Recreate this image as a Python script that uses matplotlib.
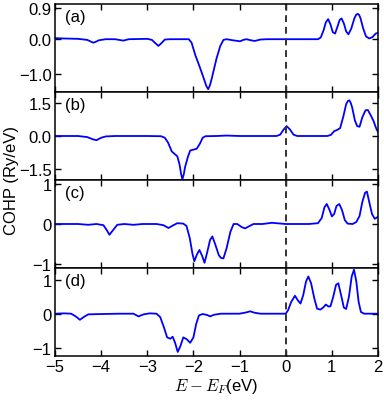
import matplotlib
matplotlib.use("Agg")
import matplotlib.pyplot as plt

plt.rcParams['font.family'] = ['Liberation Sans', 'DejaVu Sans']
plt.rcParams['mathtext.fontset'] = 'cm'

# ---------------- data ----------------
xa = [-5.0, -4.8, -4.5, -4.3, -4.22, -4.17, -4.11, -4.05, -3.9, -3.7, -3.52, -3.4, -3.0, -2.9,
      -2.82, -2.76, -2.70, -2.62, -2.5, -2.2, -2.10, -2.04, -1.96, -1.86, -1.78, -1.72, -1.68,
      -1.64, -1.60, -1.50, -1.42, -1.35, -1.28, -1.15, -0.99, -0.92, -0.85, -0.76, -0.67, -0.55,
      -0.4, 0.0, 0.3, 0.6, 0.70, 0.76, 0.82, 0.87, 0.92, 0.97, 1.02, 1.07, 1.12, 1.17, 1.21,
      1.26, 1.31, 1.36, 1.42, 1.49, 1.53, 1.56, 1.59, 1.62, 1.68, 1.74, 1.81, 1.88, 1.95, 2.0]
ya = [0.03, 0.02, 0.01, -0.02, -0.07, -0.10, -0.07, -0.03, 0.0, 0.0, -0.04, 0.0, 0.01, -0.02,
      -0.12, -0.19, -0.12, -0.01, 0.0, 0.0, 0.0, -0.10, -0.45, -0.80, -1.10, -1.33, -1.42,
      -1.30, -1.10, -0.55, -0.20, -0.02, 0.0, -0.03, -0.06, -0.02, 0.0, -0.03, -0.05, -0.01,
      0.0, 0.0, 0.0, 0.0, 0.0, 0.05, 0.25, 0.48, 0.57, 0.42, 0.20, 0.16, 0.35, 0.55, 0.59,
      0.45, 0.22, 0.14, 0.30, 0.60, 0.70, 0.72, 0.69, 0.60, 0.30, 0.08, 0.02, 0.06, 0.16, 0.18]

xb = [-5.0, -4.5, -4.3, -4.18, -4.10, -4.0, -3.9, -3.7, -3.0, -2.7, -2.62, -2.55, -2.47, -2.40,
      -2.35, -2.30, -2.27, -2.24, -2.21, -2.18, -2.12, -2.07, -2.00, -1.93, -1.86, -1.80, -1.74,
      -1.5, -1.28, -1.0, -0.5, -0.20, -0.12, -0.05, 0.02, 0.09, 0.17, 0.25, 0.9, 0.98, 1.05,
      1.12, 1.18, 1.25, 1.31, 1.35, 1.38, 1.41, 1.44, 1.50, 1.55, 1.60, 1.66, 1.73, 1.78, 1.84,
      1.90, 1.96, 2.0]
yb = [0.0, 0.0, -0.05, -0.15, -0.19, -0.08, -0.02, 0.0, 0.0, -0.01, -0.08, -0.30, -0.70, -0.83,
      -0.92, -1.30, -1.70, -1.97, -1.75, -1.40, -0.95, -0.66, -0.62, -0.58, -0.35, -0.08, -0.01,
      0.0, 0.02, 0.0, 0.0, 0.0, 0.06, 0.28, 0.45, 0.30, 0.06, 0.0, 0.0, 0.05, 0.22,
      0.28, 0.36, 0.90, 1.45, 1.60, 1.62, 1.50, 1.30, 0.70, 0.45, 0.42, 0.85, 1.17, 1.18, 0.95,
      0.70, 0.35, 0.18]

xc = [-5.0, -4.5, -4.28, -4.1, -3.95, -3.88, -3.82, -3.74, -3.65, -3.5, -3.3, -3.1, -2.8, -2.65,
      -2.54, -2.45, -2.35, -2.22, -2.15, -2.08, -2.02, -1.98, -1.92, -1.87, -1.81, -1.76, -1.70,
      -1.64, -1.59, -1.53, -1.45, -1.40, -1.35, -1.28, -1.20, -1.13, -1.05, -0.95, -0.88, -0.80,
      -0.7, -0.5, -0.3, -0.1, 0.0, 0.5, 0.70, 0.78, 0.84, 0.89, 0.95, 1.0, 1.05, 1.10, 1.16,
      1.22, 1.28, 1.34, 1.45, 1.53, 1.60, 1.66, 1.72, 1.76, 1.81, 1.87, 1.93, 2.0]
yc = [0.0, 0.0, -0.02, 0.0, -0.03, -0.15, -0.27, -0.15, -0.02, 0.0, -0.02, 0.0, 0.0, -0.03,
      -0.10, -0.04, 0.02, 0.01, -0.05, -0.35, -0.75, -0.93, -0.75, -0.65, -0.80, -0.97, -0.70,
      -0.40, -0.31, -0.50, -0.78, -0.85, -0.86, -0.60, -0.20, 0.0, 0.0, -0.08, -0.11, -0.06,
      0.0, 0.0, 0.03, 0.01, 0.0, 0.0, 0.02, 0.15, 0.42, 0.50, 0.35, 0.19, 0.25, 0.45, 0.50,
      0.35, 0.10, 0.01, 0.0, 0.05, 0.20, 0.55, 0.78, 0.81, 0.55, 0.25, 0.13, 0.18]

xd = [-5.0, -4.8, -4.65, -4.55, -4.46, -4.38, -4.28, -4.0, -3.6, -3.3, -3.19, -3.08, -2.95,
      -2.80, -2.72, -2.64, -2.57, -2.50, -2.45, -2.40, -2.34, -2.28, -2.22, -2.15, -2.07, -2.00,
      -1.94, -1.88, -1.80, -1.70, -1.64, -1.55, -1.4, -1.0, -0.85, -0.77, -0.68, -0.55, 0.0,
      0.05, 0.12, 0.20, 0.26, 0.32, 0.38, 0.44, 0.49, 0.55, 0.62, 0.68, 0.75, 0.81, 0.87, 0.93,
      0.97, 1.03, 1.09, 1.14, 1.20, 1.26, 1.31, 1.37, 1.43, 1.48, 1.53, 1.58, 1.63, 1.70, 2.0]
yd = [0.0, 0.01, 0.0, -0.08, -0.18, -0.10, -0.02, -0.01, 0.0, 0.0, -0.08, -0.02, 0.01,
      0.0, -0.10, -0.40, -0.70, -0.74, -0.68, -0.85, -1.13, -0.95, -0.70, -0.75, -0.86, -0.70,
      -0.30, -0.05, -0.01, -0.04, -0.08, -0.03, 0.0, 0.0, 0.04, 0.07, 0.03, 0.0, 0.0,
      0.10, 0.35, 0.53, 0.40, 0.30, 0.55, 0.95, 1.10, 0.90, 0.45, 0.15, 0.12, 0.18, 0.27, 0.21,
      0.22, 0.50, 0.85, 0.90, 0.55, 0.18, 0.14, 0.50, 1.10, 1.30, 0.95, 0.35, 0.05, 0.0, 0.0]

panels = ["(a)", "(b)", "(c)", "(d)"]
xs = [xa, xb, xc, xd]
ys = [ya, yb, yc, yd]
ylims = [(-1.5, 1.0), (-2.0, 2.0), (-1.1, 1.1), (-1.25, 1.35)]
yticks = [[-1.0, 0.0, 0.9], [-1.5, 0.0, 1.5], [-1, 0, 1], [-1, 0, 1]]
yticklabels = [["\u22121.0", "0.0", "0.9"], ["\u22121.5", "0.0", "1.5"],
               ["\u22121", "0", "1"], ["\u22121", "0", "1"]]
xticks = [-5, -4, -3, -2, -1, 0, 1, 2]
xticklabels = ["\u22125", "\u22124", "\u22123", "\u22122", "\u22121", "0", "1", "2"]

# ---------------- figure ----------------
fs = 12
fig = plt.figure(figsize=(3.84, 4.02), dpi=100)
left, right, top, bottom = 55 / 384, 378 / 384, 1 - 5 / 402, 1 - 357 / 402
h = (top - bottom) / 4
axes = []
for i in range(4):
    ax = fig.add_axes([left, top - (i + 1) * h, right - left, h])
    axes.append(ax)
    ax.plot(xs[i], ys[i], color="#0000ff", lw=1.3)
    ax.axvline(0, color="#333333", lw=1.4, ls=(0, (3.5, 2.5)))
    ax.set_xlim(-5, 2)
    ax.set_ylim(*ylims[i])
    ax.set_yticks(yticks[i])
    ax.set_yticklabels(yticklabels[i])
    ax.set_xticks(xticks)
    ax.tick_params(direction="in", top=True, right=True, length=4, width=1,
                   labelsize=fs, pad=2.5)
    for s in ax.spines.values():
        s.set_linewidth(1.1)
    if i < 3:
        ax.set_xticklabels([])
    else:
        ax.set_xticklabels(xticklabels)
    ax.text(0.03, 0.94, panels[i], transform=ax.transAxes, fontsize=fs,
            ha="left", va="top")

axes[3].set_xlabel(r"$E - E_F$(eV)", fontsize=fs, labelpad=1)
fig.text(0.03, (top + bottom) / 2, "COHP (Ry/eV)", rotation=90, fontsize=fs,
         ha="center", va="center")

fig.savefig("out.png", dpi=100)
